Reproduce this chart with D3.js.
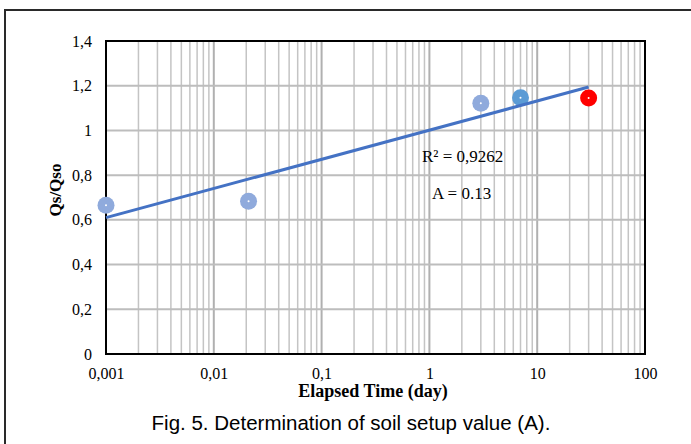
<!DOCTYPE html>
<html>
<head>
<meta charset="utf-8">
<script src="https://cdn.jsdelivr.net/npm/d3@7"></script>
<style>
  body { margin: 0; background: #fff; }
  svg { display: block; }
</style>
</head>
<body>
<svg id="chart"></svg>
<script>
var width = 691;
var height = 444;

// measured points: elapsed time (day) and Qs/Qso
var times = [0.001, 0.021, 3, 7, 30];
var ratios = [0.665, 0.683, 1.122, 1.146, 1.145];
var pointColors = ["#8FAADC", "#8FAADC", "#8FAADC", "#5B9BD5", "#FF0000"];

// log trend line
var trendTimes = [0.001, 30];
var trendRatios = [0.61, 1.194];

var xTickValues = [0.001, 0.01, 0.1, 1, 10, 100];
var xTickLabels = ["0,001", "0,01", "0,1", "1", "10", "100"];
var yTickValues = [0, 0.2, 0.4, 0.6, 0.8, 1, 1.2, 1.4];
var yTickLabels = ["0", "0,2", "0,4", "0,6", "0,8", "1", "1,2", "1,4"];

var margin = {left: 106, right: 46, top: 41, bottom: 90};
var plotW = width - margin.left - margin.right;
var plotH = height - margin.top - margin.bottom;

var svg = d3.select("#chart")
    .attr("width", width)
    .attr("height", height);

// outer frame of the figure
svg.append("rect")
    .attr("x", 5)
    .attr("y", 10)
    .attr("width", 720)
    .attr("height", 460)
    .attr("fill", "none")
    .attr("stroke", "#2a2a2a")
    .attr("stroke-width", 2);

var x = d3.scaleLog().domain([0.001, 100]).range([0, plotW]);
var y = d3.scaleLinear().domain([0, 1.4]).range([plotH, 0]);

var g = svg.append("g")
    .attr("transform", "translate(" + margin.left + "," + margin.top + ")");

// vertical grid, minor then major
var minor = [];
xTickValues.slice(0, -1).forEach(function(d) {
  for (var k = 2; k <= 9; k++) minor.push(d * k);
});

g.append("g").selectAll("line")
    .data(minor)
    .enter().append("line")
    .attr("x1", function(d) { return x(d); })
    .attr("x2", function(d) { return x(d); })
    .attr("y1", 0)
    .attr("y2", plotH)
    .attr("stroke", "#c4c4c4")
    .attr("stroke-width", 1.5);

g.append("g").selectAll("line")
    .data(xTickValues)
    .enter().append("line")
    .attr("x1", function(d) { return x(d); })
    .attr("x2", function(d) { return x(d); })
    .attr("y1", 0)
    .attr("y2", plotH)
    .attr("stroke", "#b0b0b0")
    .attr("stroke-width", 2);

g.append("g").selectAll("line")
    .data(yTickValues)
    .enter().append("line")
    .attr("x1", 0)
    .attr("x2", plotW)
    .attr("y1", function(d) { return y(d); })
    .attr("y2", function(d) { return y(d); })
    .attr("stroke", "#bdbdbd")
    .attr("stroke-width", 2);

// plot border
g.append("rect")
    .attr("width", plotW)
    .attr("height", plotH)
    .attr("fill", "none")
    .attr("stroke", "#000")
    .attr("stroke-width", 2);

// axes
var xAxis = d3.axisBottom(x)
    .tickValues(xTickValues)
    .tickSize(0)
    .tickPadding(14)
    .tickFormat(function(d, i) { return xTickLabels[i]; });

var yAxis = d3.axisLeft(y)
    .tickValues(yTickValues)
    .tickSize(0)
    .tickPadding(14)
    .tickFormat(function(d, i) { return yTickLabels[i]; });

g.append("g")
    .attr("transform", "translate(0," + plotH + ")")
    .call(xAxis)
    .call(function(s) { s.select(".domain").remove(); })
    .selectAll("text")
    .style("font-family", "'Liberation Serif', 'Times New Roman', serif")
    .style("font-size", "16px")
    .attr("fill", "#000");

g.append("g")
    .call(yAxis)
    .call(function(s) { s.select(".domain").remove(); })
    .selectAll("text")
    .style("font-family", "'Liberation Serif', 'Times New Roman', serif")
    .style("font-size", "16px")
    .attr("fill", "#000");

// points
var pts = times.map(function(t, i) { return {t: t, v: ratios[i], c: pointColors[i]}; });

g.append("g").selectAll("circle")
    .data(pts)
    .enter().append("circle")
    .attr("cx", function(d) { return x(d.t); })
    .attr("cy", function(d) { return y(d.v); })
    .attr("r", 8.5)
    .attr("fill", function(d) { return d.c; });

g.append("g").selectAll("circle")
    .data(pts)
    .enter().append("circle")
    .attr("cx", function(d) { return x(d.t); })
    .attr("cy", function(d) { return y(d.v); })
    .attr("r", 1)
    .attr("fill", "#fff");

// trend line
var line = d3.line()
    .x(function(d, i) { return x(trendTimes[i]); })
    .y(function(d) { return y(d); });

g.append("path")
    .datum(trendRatios)
    .attr("d", line)
    .attr("fill", "none")
    .attr("stroke", "#4472C4")
    .attr("stroke-width", 3);

// annotations
g.append("text")
    .attr("x", 316)
    .attr("y", 121)
    .style("font-family", "'Liberation Serif', 'Times New Roman', serif")
    .style("font-size", "17px")
    .text("R² = 0,9262");

g.append("text")
    .attr("x", 326)
    .attr("y", 158)
    .style("font-family", "'Liberation Serif', 'Times New Roman', serif")
    .style("font-size", "17px")
    .text("A = 0.13");

// axis titles
svg.append("text")
    .attr("transform", "translate(61,190) rotate(-90)")
    .attr("text-anchor", "middle")
    .style("font-family", "'Liberation Serif', 'Times New Roman', serif")
    .style("font-size", "17px")
    .style("font-weight", "bold")
    .text("Qs/Qso");

svg.append("text")
    .attr("x", 373)
    .attr("y", 397)
    .attr("text-anchor", "middle")
    .style("font-family", "'Liberation Serif', 'Times New Roman', serif")
    .style("font-size", "18px")
    .style("font-weight", "bold")
    .text("Elapsed Time (day)");

// caption
svg.append("text")
    .attr("x", 351)
    .attr("y", 430)
    .attr("text-anchor", "middle")
    .style("font-family", "'Liberation Sans', Arial, sans-serif")
    .style("font-size", "20.5px")
    .text("Fig. 5. Determination of soil setup value (A).");
</script>
</body>
</html>
